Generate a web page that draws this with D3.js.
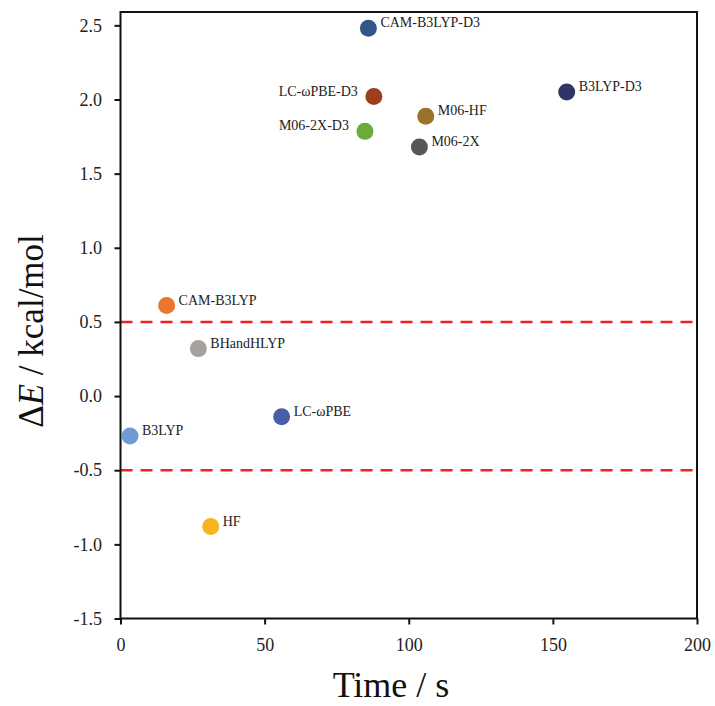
<!DOCTYPE html>
<html>
<head>
<meta charset="utf-8">
<script src="https://cdn.jsdelivr.net/npm/d3@7"></script>
<style>
  html, body { margin: 0; padding: 0; background: #fff; }
  svg { display: block; }
</style>
</head>
<body>
<svg id="chart" width="715" height="706"></svg>
<script>
// Method benchmark: computing time versus energy error
const methods = ["CAM-B3LYP-D3", "LC-ωPBE-D3", "M06-2X-D3", "M06-HF", "M06-2X", "B3LYP-D3",
                 "CAM-B3LYP", "BHandHLYP", "LC-ωPBE", "B3LYP", "HF"];
const timeS   = [86.0, 87.9, 84.8, 105.9, 103.7, 154.8, 16.0, 27.0, 55.9, 3.3, 31.3];
const deltaE  = [2.48, 2.02, 1.785, 1.887, 1.68, 2.05, 0.61, 0.32, -0.14, -0.27, -0.88];
const colors  = ["#325685", "#9c3f1f", "#6aab3a", "#9a7328", "#5a5653", "#2d3667",
                 "#e8782f", "#a6a19d", "#4a5ea8", "#6f9ad3", "#f8b41e"];
const labelSide = ["right", "left", "left", "right", "right", "right",
                   "right", "right", "right", "right", "right"];
const xTicks = [0, 50, 100, 150, 200];
const yTicks = [-1.5, -1.0, -0.5, 0.0, 0.5, 1.0, 1.5, 2.0, 2.5];
const thresholds = [0.5, -0.5];

const FONT = "Liberation Serif";
const svg = d3.select("#chart").attr("font-family", FONT);
const plotL = 120.5, plotR = 697, plotT = 12, plotB = 618.5;

const x = d3.scaleLinear().domain([0, 200]).range([plotL, plotR]);
const y = d3.scaleLinear().domain([-1.5, 2.59]).range([plotB, plotT]);

// Threshold lines
svg.selectAll("line.thr").data(thresholds).enter().append("line")
  .attr("class", "thr")
  .attr("x1", plotL).attr("x2", plotR)
  .attr("y1", d => y(d)).attr("y2", d => y(d))
  .attr("stroke", "#ee2222").attr("stroke-width", 2.5)
  .attr("stroke-dasharray", "12,8");

// Axes (hyphen-minus for negative tick labels)
const yFmt = d => d3.format(".1f")(d).replace("\u2212", "-");
const xAxis = svg.append("g").attr("transform", `translate(0,${plotB})`)
  .call(d3.axisBottom(x).tickValues(xTicks).tickFormat(d3.format("d")).tickSize(6).tickSizeOuter(0));
const yAxis = svg.append("g").attr("transform", `translate(${plotL},0)`)
  .call(d3.axisLeft(y).tickValues(yTicks).tickFormat(yFmt).tickSize(6).tickSizeOuter(0));

[xAxis, yAxis].forEach(g => {
  g.attr("font-family", FONT).attr("font-size", 18);
  g.select(".domain").remove();
  g.selectAll(".tick line").attr("stroke", "#111").attr("stroke-width", 2);
  g.selectAll(".tick text").attr("fill", "#222").attr("font-family", FONT).attr("font-size", 18);
});
xAxis.selectAll(".tick text").attr("y", 32.5).attr("dy", 0);
yAxis.selectAll(".tick text").attr("x", -18.5);

// Plot frame
svg.append("rect")
  .attr("x", plotL).attr("y", plotT)
  .attr("width", plotR - plotL).attr("height", plotB - plotT)
  .attr("fill", "none").attr("stroke", "#111").attr("stroke-width", 2);

// Points
const pts = methods.map((m, i) => ({ m, t: timeS[i], e: deltaE[i], c: colors[i], side: labelSide[i] }));
svg.selectAll("circle.pt").data(pts).enter().append("circle")
  .attr("class", "pt")
  .attr("cx", d => x(d.t)).attr("cy", d => y(d.e))
  .attr("r", 8.5).attr("fill", d => d.c);

svg.selectAll("text.lbl").data(pts).enter().append("text")
  .attr("class", "lbl")
  .attr("x", d => x(d.t) + (d.side === "right" ? 12 : -16))
  .attr("y", d => y(d.e) - 1)
  .attr("text-anchor", d => d.side === "right" ? "start" : "end")
  .attr("fill", "#222").attr("font-family", FONT).attr("font-size", 14)
  .text(d => d.m);

// Axis titles
svg.append("text")
  .attr("x", 391).attr("y", 697)
  .attr("text-anchor", "middle").attr("font-family", FONT).attr("font-size", 36).attr("fill", "#111")
  .text("Time / s");

const yt = svg.append("text")
  .attr("transform", "translate(43,331) rotate(-90)")
  .attr("text-anchor", "middle").attr("font-family", FONT).attr("font-size", 35).attr("fill", "#111");
yt.append("tspan").text("Δ");
yt.append("tspan").attr("font-style", "italic").text("E");
yt.append("tspan").text(" / kcal/mol");
</script>
</body>
</html>
